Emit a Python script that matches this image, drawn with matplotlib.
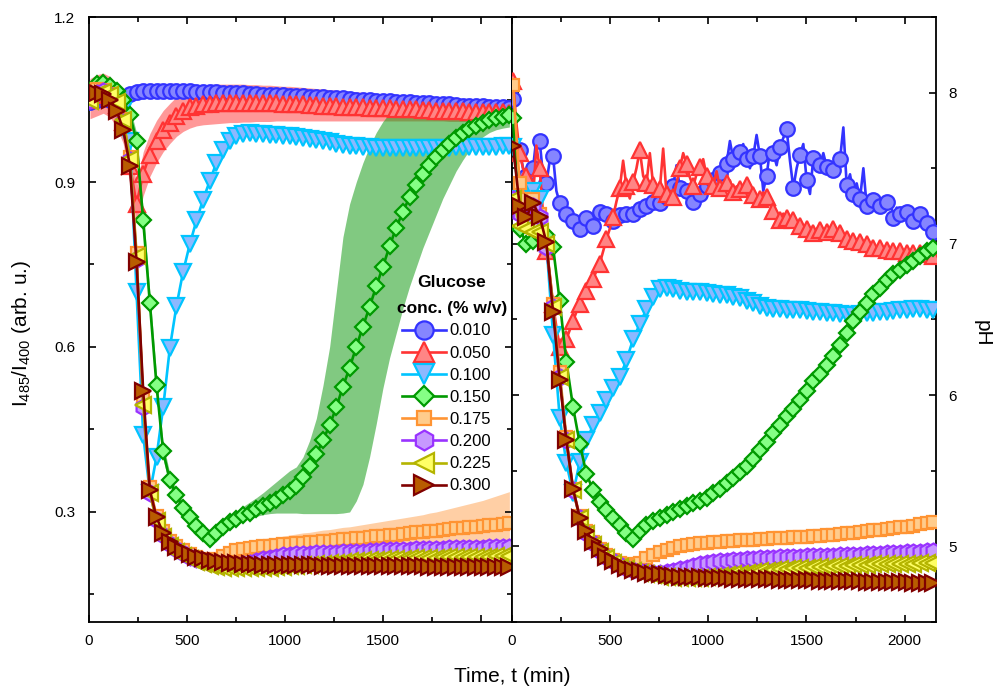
import numpy as np
import matplotlib
matplotlib.use("Agg")
import matplotlib.pyplot as plt
from matplotlib.ticker import MultipleLocator

plt.rcParams["font.family"] = ["Liberation Sans", "DejaVu Sans"]
plt.rcParams["mathtext.fontset"] = "custom"
plt.rcParams["mathtext.rm"] = "Liberation Sans"
plt.rcParams["mathtext.it"] = "Liberation Sans:italic"

# -----------------------------
# Data: sampling grid (min)
# -----------------------------
t_start = 5
t_step = 34
n_points = 64
time = t_start + t_step * np.arange(n_points)
# pH probe logs twice per sampling interval
time_fine = t_start + (t_step / 2) * np.arange(2 * n_points - 1)

conc_labels = ["0.010", "0.050", "0.100", "0.150", "0.175", "0.200", "0.225", "0.300"]

# ratiometric signal I485/I400
ratio_010 = [1.045, 1.050, 1.052, 1.050, 1.050, 1.055, 1.060, 1.063,
             1.065, 1.066, 1.066, 1.066, 1.066, 1.065, 1.065, 1.065,
             1.064, 1.064, 1.063, 1.063, 1.062, 1.062, 1.061, 1.061,
             1.060, 1.060, 1.059, 1.059, 1.058, 1.058, 1.057, 1.057,
             1.056, 1.055, 1.055, 1.054, 1.053, 1.052, 1.052, 1.051,
             1.050, 1.049, 1.049, 1.048, 1.047, 1.047, 1.046, 1.045,
             1.045, 1.044, 1.043, 1.043, 1.042, 1.041, 1.041, 1.040,
             1.039, 1.039, 1.038, 1.038, 1.037, 1.036, 1.036, 1.035]
ratio_050 = [1.050, 1.058, 1.062, 1.055, 1.040, 1.010, 0.930, 0.860,
             0.915, 0.950, 0.975, 0.995, 1.008, 1.020, 1.030, 1.036,
             1.039, 1.041, 1.042, 1.043, 1.044, 1.044, 1.044, 1.044,
             1.044, 1.044, 1.043, 1.043, 1.043, 1.042, 1.042, 1.041,
             1.041, 1.040, 1.040, 1.039, 1.039, 1.038, 1.037, 1.037,
             1.036, 1.036, 1.035, 1.035, 1.034, 1.034, 1.033, 1.033,
             1.032, 1.032, 1.031, 1.031, 1.030, 1.030, 1.029, 1.029,
             1.029, 1.028, 1.028, 1.028, 1.027, 1.027, 1.027, 1.026]
ratio_100 = [1.050, 1.058, 1.062, 1.058, 1.048, 1.030, 0.975, 0.700,
             0.440, 0.335, 0.400, 0.490, 0.598, 0.675, 0.737, 0.787,
             0.830, 0.868, 0.902, 0.935, 0.958, 0.975, 0.984, 0.988,
             0.989, 0.988, 0.987, 0.986, 0.985, 0.984, 0.983, 0.982,
             0.980, 0.978, 0.976, 0.974, 0.972, 0.970, 0.968, 0.966,
             0.965, 0.964, 0.963, 0.962, 0.962, 0.961, 0.961, 0.961,
             0.961, 0.961, 0.961, 0.962, 0.962, 0.962, 0.962, 0.963,
             0.963, 0.963, 0.963, 0.964, 0.964, 0.964, 0.965, 0.965]
ratio_150 = [1.065, 1.078, 1.080, 1.075, 1.065, 1.050, 1.022, 0.975,
             0.830, 0.680, 0.530, 0.410, 0.358, 0.330, 0.308, 0.290,
             0.275, 0.262, 0.250, 0.262, 0.272, 0.281, 0.288, 0.294,
             0.299, 0.305, 0.310, 0.316, 0.322, 0.330, 0.338, 0.348,
             0.363, 0.383, 0.405, 0.430, 0.458, 0.490, 0.528, 0.562,
             0.600, 0.637, 0.673, 0.710, 0.746, 0.783, 0.817, 0.846,
             0.872, 0.894, 0.914, 0.931, 0.945, 0.958, 0.970, 0.980,
             0.989, 0.996, 1.002, 1.007, 1.012, 1.016, 1.019, 1.022]
ratio_175 = [1.065, 1.070, 1.068, 1.060, 1.045, 1.015, 0.945, 0.770,
             0.505, 0.345, 0.292, 0.265, 0.248, 0.238, 0.230, 0.224,
             0.219, 0.214, 0.212, 0.214, 0.220, 0.226, 0.230, 0.233,
             0.235, 0.237, 0.238, 0.239, 0.240, 0.241, 0.242, 0.243,
             0.244, 0.245, 0.246, 0.247, 0.248, 0.249, 0.250, 0.251,
             0.252, 0.253, 0.254, 0.256, 0.257, 0.258, 0.259, 0.260,
             0.261, 0.263, 0.264, 0.265, 0.266, 0.267, 0.269, 0.270,
             0.271, 0.272, 0.273, 0.275, 0.276, 0.277, 0.278, 0.280]
ratio_200 = [1.050, 1.062, 1.065, 1.058, 1.042, 1.010, 0.940, 0.760,
             0.490, 0.335, 0.285, 0.258, 0.242, 0.232, 0.225, 0.219,
             0.214, 0.210, 0.207, 0.205, 0.204, 0.204, 0.204, 0.205,
             0.207, 0.210, 0.214, 0.217, 0.219, 0.221, 0.222, 0.223,
             0.224, 0.224, 0.225, 0.225, 0.226, 0.226, 0.227, 0.227,
             0.228, 0.228, 0.229, 0.229, 0.230, 0.230, 0.231, 0.231,
             0.231, 0.232, 0.232, 0.233, 0.233, 0.233, 0.234, 0.234,
             0.234, 0.235, 0.235, 0.235, 0.236, 0.236, 0.236, 0.237]
ratio_225 = [1.048, 1.060, 1.064, 1.058, 1.045, 1.012, 0.942, 0.765,
             0.495, 0.335, 0.283, 0.255, 0.238, 0.228, 0.220, 0.214,
             0.209, 0.205, 0.202, 0.200, 0.199, 0.198, 0.198, 0.198,
             0.198, 0.198, 0.199, 0.199, 0.200, 0.200, 0.201, 0.202,
             0.203, 0.204, 0.205, 0.206, 0.207, 0.208, 0.209, 0.210,
             0.211, 0.212, 0.212, 0.213, 0.214, 0.214, 0.215, 0.215,
             0.216, 0.216, 0.217, 0.217, 0.217, 0.218, 0.218, 0.218,
             0.218, 0.219, 0.219, 0.219, 0.219, 0.220, 0.220, 0.220]
ratio_300 = [1.058, 1.062, 1.060, 1.050, 1.030, 0.995, 0.930, 0.755,
             0.520, 0.340, 0.290, 0.262, 0.245, 0.236, 0.229, 0.224,
             0.219, 0.216, 0.213, 0.211, 0.209, 0.208, 0.207, 0.206,
             0.205, 0.205, 0.204, 0.204, 0.204, 0.203, 0.203, 0.203,
             0.203, 0.203, 0.203, 0.202, 0.202, 0.202, 0.202, 0.202,
             0.202, 0.202, 0.202, 0.201, 0.201, 0.201, 0.201, 0.201,
             0.201, 0.201, 0.201, 0.200, 0.200, 0.200, 0.200, 0.200,
             0.200, 0.200, 0.200, 0.200, 0.200, 0.200, 0.200, 0.200]

# spread between replicates (lower / upper envelope)
band_050_lo = [1.015, 1.020, 1.025, 1.018, 1.000, 0.970, 0.895, 0.825,
               0.875, 0.910, 0.935, 0.955, 0.970, 0.983, 0.992, 0.998,
               1.002, 1.004, 1.005, 1.006, 1.007, 1.008, 1.008, 1.009,
               1.009, 1.010, 1.010, 1.010, 1.011, 1.011, 1.011, 1.011,
               1.011, 1.011, 1.011, 1.011, 1.011, 1.011, 1.011, 1.011,
               1.011, 1.011, 1.011, 1.011, 1.011, 1.011, 1.011, 1.011,
               1.011, 1.011, 1.011, 1.011, 1.011, 1.011, 1.010, 1.010,
               1.010, 1.010, 1.010, 1.010, 1.010, 1.009, 1.009, 1.009]
band_050_hi = [1.088, 1.095, 1.098, 1.092, 1.078, 1.048, 0.970, 0.895,
               0.955, 0.988, 1.012, 1.030, 1.043, 1.055, 1.064, 1.070,
               1.074, 1.076, 1.077, 1.078, 1.078, 1.078, 1.078, 1.078,
               1.077, 1.077, 1.076, 1.076, 1.075, 1.074, 1.074, 1.073,
               1.072, 1.071, 1.070, 1.069, 1.068, 1.067, 1.066, 1.065,
               1.064, 1.063, 1.062, 1.061, 1.060, 1.059, 1.058, 1.057,
               1.056, 1.055, 1.054, 1.053, 1.052, 1.052, 1.051, 1.051,
               1.050, 1.050, 1.049, 1.049, 1.048, 1.048, 1.047, 1.047]
band_150_lo = [1.055, 1.066, 1.070, 1.065, 1.055, 1.040, 1.010, 0.960,
               0.810, 0.660, 0.510, 0.395, 0.346, 0.320, 0.298, 0.280,
               0.265, 0.252, 0.240, 0.252, 0.262, 0.271, 0.278, 0.284,
               0.288, 0.292, 0.295, 0.297, 0.298, 0.298, 0.298, 0.298,
               0.297, 0.297, 0.297, 0.297, 0.297, 0.297, 0.298, 0.300,
               0.320, 0.350, 0.400, 0.460, 0.525, 0.580, 0.625, 0.670,
               0.710, 0.745, 0.780, 0.810, 0.840, 0.870, 0.895, 0.920,
               0.940, 0.958, 0.972, 0.982, 0.990, 0.995, 0.998, 1.000]
band_150_hi = [1.075, 1.090, 1.090, 1.085, 1.075, 1.060, 1.035, 0.990,
               0.850, 0.700, 0.550, 0.425, 0.370, 0.340, 0.318, 0.300,
               0.285, 0.272, 0.262, 0.272, 0.283, 0.293, 0.302, 0.310,
               0.318, 0.326, 0.335, 0.345, 0.355, 0.365, 0.375, 0.382,
               0.400, 0.430, 0.470, 0.530, 0.600, 0.700, 0.800, 0.860,
               0.900, 0.935, 0.965, 0.990, 1.010, 1.025, 1.035, 1.042,
               1.046, 1.048, 1.050, 1.050, 1.050, 1.050, 1.050, 1.049,
               1.049, 1.048, 1.048, 1.047, 1.047, 1.046, 1.046, 1.045]
band_175_lo = [1.055, 1.060, 1.058, 1.050, 1.035, 1.005, 0.935, 0.760,
               0.495, 0.335, 0.284, 0.258, 0.241, 0.232, 0.224, 0.219,
               0.214, 0.209, 0.206, 0.207, 0.212, 0.217, 0.221, 0.223,
               0.224, 0.226, 0.226, 0.227, 0.228, 0.228, 0.229, 0.229,
               0.230, 0.231, 0.231, 0.232, 0.232, 0.233, 0.233, 0.234,
               0.234, 0.235, 0.235, 0.236, 0.236, 0.236, 0.237, 0.237,
               0.237, 0.238, 0.238, 0.238, 0.238, 0.239, 0.239, 0.239,
               0.239, 0.239, 0.240, 0.240, 0.240, 0.240, 0.240, 0.240]
band_175_hi = [1.075, 1.080, 1.078, 1.070, 1.055, 1.025, 0.955, 0.780,
               0.515, 0.355, 0.300, 0.272, 0.255, 0.244, 0.236, 0.229,
               0.224, 0.219, 0.218, 0.221, 0.228, 0.235, 0.240, 0.244,
               0.247, 0.249, 0.251, 0.253, 0.254, 0.256, 0.258, 0.260,
               0.262, 0.263, 0.265, 0.267, 0.268, 0.270, 0.272, 0.273,
               0.275, 0.277, 0.279, 0.281, 0.283, 0.285, 0.287, 0.289,
               0.291, 0.293, 0.295, 0.298, 0.300, 0.303, 0.306, 0.309,
               0.312, 0.315, 0.318, 0.321, 0.325, 0.329, 0.333, 0.337]

# pH of the medium
ph_010 = [7.96, 7.62, 7.45, 7.50, 7.68, 7.40, 7.58, 7.27,
          7.20, 7.15, 7.10, 7.17, 7.12, 7.21, 7.20, 7.15,
          7.19, 7.20, 7.20, 7.23, 7.25, 7.28, 7.27, 7.31,
          7.38, 7.37, 7.35, 7.28, 7.33, 7.38, 7.42, 7.47,
          7.53, 7.56, 7.61, 7.56, 7.58, 7.58, 7.45, 7.60,
          7.64, 7.76, 7.37, 7.59, 7.42, 7.57, 7.52, 7.51,
          7.49, 7.56, 7.39, 7.33, 7.30, 7.25, 7.29, 7.25,
          7.28, 7.17, 7.20, 7.21, 7.15, 7.20, 7.14, 7.08]
ph_050 = [8.08, 7.60, 7.45, 7.30, 7.50, 6.95, 6.60, 6.32,
          6.37, 6.49, 6.60, 6.69, 6.77, 6.87, 7.03, 7.18,
          7.37, 7.38, 7.41, 7.62, 7.40, 7.39, 7.36, 7.33,
          7.31, 7.50, 7.53, 7.38, 7.51, 7.45, 7.38, 7.37,
          7.40, 7.34, 7.36, 7.39, 7.32, 7.30, 7.31, 7.22,
          7.16, 7.17, 7.16, 7.12, 7.10, 7.07, 7.09, 7.08,
          7.10, 7.07, 7.03, 7.02, 7.01, 7.00, 6.97, 6.97,
          6.96, 6.95, 6.95, 6.94, 6.94, 6.94, 6.93, 6.92]
# intermediate probe readings (between the marked samples) for the two
# noisiest cultures
ph_010_mid = [7.70, 7.50, 7.40, 7.70, 7.45, 7.55, 7.35, 7.22,
              7.17, 7.12, 7.14, 7.18, 7.16, 7.24, 7.18, 7.17,
              7.22, 7.19, 7.22, 7.26, 7.24, 7.30, 7.33, 7.30,
              7.52, 7.33, 7.30, 7.36, 7.34, 7.44, 7.40, 7.50,
              7.68, 7.52, 7.66, 7.50, 7.72, 7.35, 7.62, 7.52,
              7.70, 7.55, 7.50, 7.66, 7.33, 7.55, 7.60, 7.45,
              7.58, 7.77, 7.46, 7.40, 7.50, 7.27, 7.32, 7.22,
              7.30, 7.24, 7.17, 7.22, 7.18, 7.12, 7.13]
ph_050_mid = [7.80, 7.50, 7.35, 7.65, 7.20, 6.80, 6.45, 6.33,
              6.43, 6.55, 6.65, 6.73, 6.82, 6.95, 7.10, 7.28,
              7.55, 7.30, 7.50, 7.45, 7.60, 7.32, 7.63, 7.35,
              7.40, 7.60, 7.44, 7.46, 7.56, 7.36, 7.48, 7.35,
              7.42, 7.38, 7.33, 7.37, 7.29, 7.34, 7.26, 7.19,
              7.20, 7.13, 7.15, 7.11, 7.08, 7.10, 7.06, 7.09,
              7.05, 7.06, 7.02, 7.03, 6.99, 7.00, 6.96, 6.97,
              6.95, 6.96, 6.94, 6.95, 6.93, 6.94, 6.92]
ph_100 = [7.64, 7.30, 7.25, 7.35, 7.30, 7.00, 6.40, 5.85,
          5.55, 5.35, 5.56, 5.70, 5.80, 5.88, 5.97, 6.05,
          6.12, 6.23, 6.37, 6.47, 6.57, 6.65, 6.70, 6.705,
          6.70, 6.69, 6.68, 6.685, 6.68, 6.675, 6.67, 6.665,
          6.66, 6.65, 6.64, 6.625, 6.61, 6.59, 6.575, 6.57,
          6.57, 6.565, 6.56, 6.56, 6.555, 6.55, 6.55, 6.545,
          6.54, 6.535, 6.53, 6.53, 6.535, 6.54, 6.545, 6.55,
          6.55, 6.555, 6.56, 6.565, 6.57, 6.57, 6.565, 6.56]
ph_150 = [7.83, 7.10, 7.00, 7.02, 7.05, 7.06, 6.98, 6.62,
          6.22, 5.92, 5.68, 5.48, 5.37, 5.29, 5.24, 5.19,
          5.14, 5.09, 5.05, 5.10, 5.14, 5.17, 5.19, 5.21,
          5.23, 5.245, 5.265, 5.285, 5.30, 5.32, 5.35, 5.38,
          5.42, 5.45, 5.49, 5.53, 5.58, 5.64, 5.69, 5.75,
          5.80, 5.86, 5.91, 5.97, 6.03, 6.09, 6.14, 6.20,
          6.26, 6.33, 6.41, 6.49, 6.55, 6.61, 6.67, 6.71,
          6.76, 6.80, 6.83, 6.86, 6.89, 6.92, 6.95, 6.97]
ph_175 = [8.05, 7.40, 7.30, 7.30, 7.20, 7.00, 6.60, 6.15,
          5.72, 5.38, 5.20, 5.10, 5.03, 4.98, 4.94, 4.91,
          4.89, 4.88, 4.87, 4.89, 4.92, 4.94, 4.96, 4.975,
          4.99, 5.00, 5.01, 5.015, 5.02, 5.025, 5.03, 5.032,
          5.035, 5.038, 5.04, 5.042, 5.045, 5.048, 5.05, 5.052,
          5.055, 5.058, 5.06, 5.062, 5.065, 5.068, 5.07, 5.073,
          5.076, 5.08, 5.085, 5.09, 5.095, 5.10, 5.105, 5.11,
          5.115, 5.12, 5.125, 5.13, 5.137, 5.145, 5.152, 5.16]
ph_200 = [7.30, 7.20, 7.15, 7.25, 7.18, 6.98, 6.58, 6.12,
          5.70, 5.37, 5.19, 5.09, 5.02, 4.97, 4.93, 4.90,
          4.875, 4.86, 4.845, 4.835, 4.83, 4.825, 4.825, 4.83,
          4.84, 4.85, 4.86, 4.87, 4.88, 4.89, 4.895, 4.90,
          4.905, 4.91, 4.912, 4.915, 4.918, 4.92, 4.922, 4.925,
          4.927, 4.93, 4.931, 4.932, 4.933, 4.934, 4.935, 4.937,
          4.938, 4.94, 4.942, 4.944, 4.946, 4.948, 4.95, 4.952,
          4.954, 4.956, 4.958, 4.96, 4.962, 4.965, 4.967, 4.97]
ph_225 = [7.30, 7.12, 7.10, 7.08, 7.08, 7.00, 6.58, 6.12,
          5.70, 5.37, 5.19, 5.08, 5.01, 4.96, 4.92, 4.89,
          4.865, 4.85, 4.835, 4.825, 4.815, 4.81, 4.80, 4.795,
          4.79, 4.79, 4.79, 4.79, 4.79, 4.795, 4.80, 4.805,
          4.81, 4.815, 4.82, 4.825, 4.83, 4.835, 4.84, 4.845,
          4.85, 4.852, 4.855, 4.858, 4.86, 4.862, 4.864, 4.866,
          4.868, 4.87, 4.872, 4.874, 4.876, 4.878, 4.88, 4.881,
          4.882, 4.883, 4.884, 4.885, 4.886, 4.887, 4.888, 4.89]
ph_300 = [7.65, 7.25, 7.18, 7.27, 7.18, 7.01, 6.55, 6.10,
          5.70, 5.38, 5.19, 5.10, 5.03, 4.98, 4.93, 4.90,
          4.875, 4.86, 4.845, 4.835, 4.825, 4.82, 4.815, 4.81,
          4.805, 4.80, 4.798, 4.796, 4.794, 4.792, 4.79, 4.789,
          4.788, 4.787, 4.786, 4.785, 4.784, 4.783, 4.782, 4.781,
          4.78, 4.779, 4.778, 4.777, 4.776, 4.775, 4.774, 4.773,
          4.772, 4.771, 4.770, 4.769, 4.768, 4.767, 4.766, 4.765,
          4.764, 4.763, 4.762, 4.761, 4.760, 4.760, 4.760, 4.760]

ratio_series = [ratio_010, ratio_050, ratio_100, ratio_150,
                ratio_175, ratio_200, ratio_225, ratio_300]
ph_series = [ph_010, ph_050, ph_100, ph_150, ph_175, ph_200, ph_225, ph_300]
ph_mid = {0: ph_010_mid, 1: ph_050_mid}


def merge_readings(marked, mid):
    # put the intermediate readings back between the marked samples
    full = np.empty(len(marked) + len(mid))
    full[0::2] = marked
    full[1::2] = mid
    return full


# -----------------------------
# Styles
# -----------------------------
edge_colors = ["#3333ff", "#ff3333", "#00c4ff", "#009900",
               "#ff9433", "#9933ff", "#b4b400", "#800000"]
face_colors = ["#8585ff", "#ff8585", "#8cb8ff", "#85ff85",
               "#ffcc8c", "#c799ff", "#ffff66", "#b85c00"]
markers = ["o", "^", "v", "D", "s", "h", "<", ">"]
marker_sizes = [10.5, 11.5, 11.5, 8.5, 8.5, 11.5, 11.5, 11.5]

bands = [
    (band_050_lo, band_050_hi, "#ff3333", 0.5),
    (band_150_lo, band_150_hi, "#1a9e1a", 0.55),
    (band_175_lo, band_175_hi, "#ffa04d", 0.5),
]

# -----------------------------
# Figure
# -----------------------------
fig = plt.figure(figsize=(9.95, 6.89), dpi=100)
ax1 = fig.add_axes([0.0894, 0.0973, 0.4251, 0.878])
ax2 = fig.add_axes([0.5146, 0.0973, 0.4261, 0.878])

for lo, hi, col, a in bands:
    ax1.fill_between(time, lo, hi, color=col, alpha=a, linewidth=0, zorder=1)

for i in range(len(conc_labels)):
    style = dict(color=edge_colors[i], linewidth=1.9, marker=markers[i],
                 markersize=marker_sizes[i], markerfacecolor=face_colors[i],
                 markeredgecolor=edge_colors[i], markeredgewidth=1.6,
                 zorder=3 + i)
    ax1.plot(time, ratio_series[i], label=conc_labels[i], **style)
    if i in ph_mid:
        ax2.plot(time_fine, merge_readings(ph_series[i], ph_mid[i]),
                 markevery=2, **style)
    else:
        ax2.plot(time, ph_series[i], **style)

# -----------------------------
# Axes
# -----------------------------
for ax in (ax1, ax2):
    ax.set_xlim(0, 2160)
    ax.xaxis.set_minor_locator(MultipleLocator(250))
    ax.tick_params(which="both", direction="in", top=True, right=True,
                   left=True, bottom=True, width=1.2, labelsize=11,
                   colors="black")
    ax.tick_params(which="major", length=5)
    ax.tick_params(which="minor", length=3.5)
    ax.tick_params(axis="x", pad=9)
    for sp in ax.spines.values():
        sp.set_linewidth(1.3)

ax1.set_ylim(0.1, 1.2)
ax1.set_yticks([0.3, 0.6, 0.9, 1.2])
ax1.set_yticklabels(["0.3", "0.6", "0.9", "1.2"])
ax1.yaxis.set_minor_locator(MultipleLocator(0.15))
ax1.set_xticks([0, 500, 1000, 1500, 2000])
ax1.set_xticklabels(["0", "500", "1000", "1500", ""])
ax1.tick_params(axis="y", pad=10)

ax2.set_ylim(4.5, 8.5)
ax2.set_yticks([5, 6, 7, 8])
ax2.yaxis.set_minor_locator(MultipleLocator(0.5))
ax2.set_xticks([0, 500, 1000, 1500, 2000])
ax2.tick_params(axis="y", labelleft=False, labelright=True, pad=9)

fig.text(22 / 995, 1 - 333 / 689,
         r"I$_{\mathregular{485}}$/I$_{\mathregular{400}}$ (arb. u.)",
         rotation=90, ha="center", va="center", fontsize=15)
fig.text(982 / 995, 1 - 333 / 689, "pH", rotation=270,
         ha="center", va="center", fontsize=15)
fig.text(512 / 995, 1 - 677 / 689, "Time, t (min)",
         ha="center", va="center", fontsize=15)

# -----------------------------
# Legend (two-line bold heading drawn above the entries)
# -----------------------------
fig.text(452 / 995, 1 - 282 / 689, "Glucose", fontsize=12.5,
         fontweight="bold", ha="center", va="center")
fig.text(452 / 995, 1 - 308 / 689, "conc. (% w/v)", fontsize=12.5,
         fontweight="bold", ha="center", va="center")

ax1.legend(loc="upper left", bbox_to_anchor=(394 / 995, 1 - 315 / 689),
           bbox_transform=fig.transFigure, frameon=False, borderpad=0,
           fontsize=12, labelspacing=0.43, handlelength=2.6,
           handletextpad=0.2, markerscale=1.25)

fig.savefig("out.png", dpi=100)
plt.close(fig)
